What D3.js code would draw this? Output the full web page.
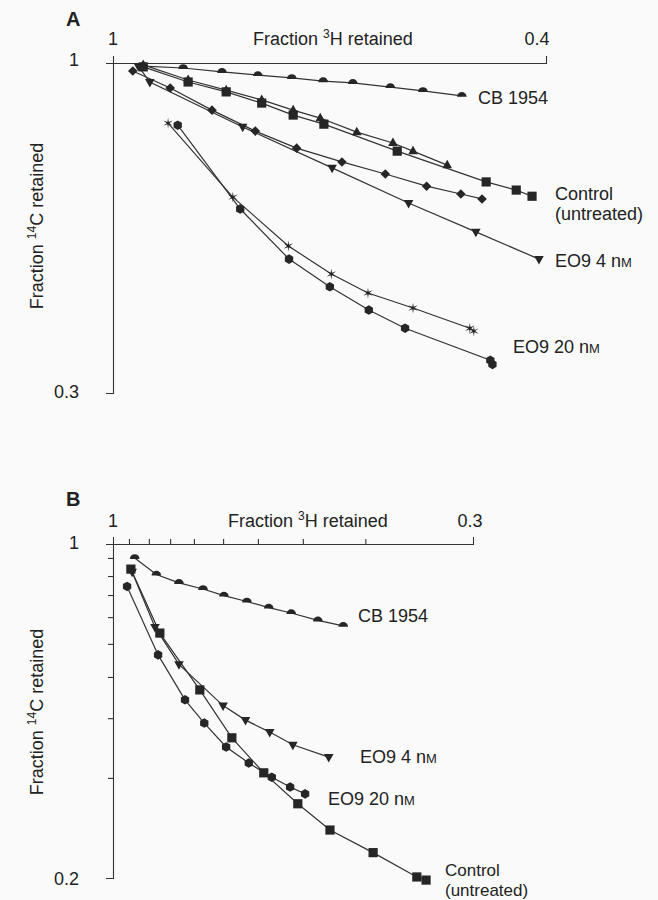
<!DOCTYPE html>
<html>
<head>
<meta charset="utf-8">
<script src="https://cdn.jsdelivr.net/npm/d3@7"></script>
<style>
  body { margin: 0; background: #fafafa; }
  text { font-family: "Liberation Sans", Arial, sans-serif; fill: #222; }
</style>
</head>
<body>
<script>
// values: [fraction 3H retained, fraction 14C retained]
// panel A
const aCB = [[0.938,0.989],[0.862,0.982],[0.794,0.968],[0.736,0.957],[0.685,0.947],[0.641,0.936],[0.602,0.930],[0.556,0.916],[0.519,0.903],[0.478,0.887]];
const aControl = [[0.938,0.986],[0.853,0.933],[0.787,0.900],[0.730,0.864],[0.683,0.827],[0.640,0.800],[0.548,0.725],[0.454,0.648],[0.426,0.629],[0.412,0.615]];
const aTriangle = [[0.938,0.993],[0.853,0.940],[0.787,0.906],[0.730,0.874],[0.683,0.842],[0.645,0.818],[0.597,0.777],[0.553,0.747],[0.530,0.725],[0.493,0.689]];
const aDiamond = [[0.959,0.971],[0.886,0.913],[0.811,0.842],[0.740,0.780],[0.678,0.733],[0.616,0.697],[0.562,0.667],[0.515,0.638],[0.479,0.620],[0.458,0.609]];
const aEO9_4 = [[0.948,0.989],[0.925,0.933],[0.760,0.792],[0.629,0.682],[0.535,0.600],[0.464,0.540],[0.406,0.489]];
const aStar = [[0.890,0.803],[0.776,0.613],[0.690,0.513],[0.630,0.463],[0.583,0.432],[0.530,0.409],[0.470,0.380],[0.466,0.376]];
const aEO9_20 = [[0.872,0.797],[0.764,0.587],[0.689,0.489],[0.632,0.442],[0.582,0.406],[0.539,0.380],[0.450,0.338],[0.448,0.333]];

// panel B
const bCB = [[0.930,0.935],[0.865,0.863],[0.802,0.829],[0.740,0.805],[0.690,0.780],[0.639,0.758],[0.594,0.736],[0.551,0.717],[0.504,0.692],[0.463,0.674]];
const bControl = [[0.942,0.886],[0.855,0.651],[0.748,0.495],[0.672,0.393],[0.604,0.332],[0.539,0.286],[0.484,0.252],[0.419,0.226],[0.362,0.201],[0.351,0.198]];
const bEO9_4 = [[0.938,0.874],[0.869,0.670],[0.802,0.560],[0.692,0.459],[0.642,0.428],[0.592,0.404],[0.548,0.380],[0.486,0.358]];
const bEO9_20 = [[0.954,0.815],[0.860,0.586],[0.786,0.472],[0.737,0.422],[0.685,0.376],[0.635,0.348],[0.588,0.325],[0.553,0.310],[0.526,0.300]];

// axis ticks (unlabelled minor ticks in panel B)
const bTicksX = [0.948,0.887,0.826,0.763,0.692,0.616,0.530,0.430];
const bTicksY = [0.935,0.857,0.782,0.703,0.618,0.527,0.432,0.324];

const width = 658;
const height = 900;

const svg = d3.select("body").append("svg")
  .attr("width", width)
  .attr("height", height);

// marker shapes
const shapes = {
  square: "M-4.6,-4.6h9.2v9.2h-9.2Z",
  triUp: "M0,-5.4L4.8,3.1L-4.8,3.1Z",
  triDown: "M0,5.4L4.8,-3.1L-4.8,-3.1Z",
  diamond: "M0,-4.8L4.8,0L0,4.8L-4.8,0Z",
  dome: "M-4.8,1A4.8,4.8 0 0 1 4.8,1Z",
  hexagon: d3.range(6).map(i => {
    const a = Math.PI / 6 + i * Math.PI / 3;
    return (i ? "L" : "M") + (4.8 * Math.cos(a)).toFixed(2) + "," + (4.8 * Math.sin(a)).toFixed(2);
  }).join("") + "Z",
  star: d3.range(12).map(i => {
    const a = -Math.PI / 2 + i * Math.PI / 6;
    const r = i % 2 ? 1.4 : 5.4;
    return (i ? "L" : "M") + (r * Math.cos(a)).toFixed(2) + "," + (r * Math.sin(a)).toFixed(2);
  }).join("") + "Z"
};

function drawPanel(cfg) {
  const x = cfg.x, y = cfg.y;
  const g = svg.append("g");

  // axes: top x axis and left y axis, outer ticks make the corner cross
  g.append("g")
    .attr("transform", `translate(0,${y(1)})`)
    .call(d3.axisTop(x).tickValues(cfg.ticksX).tickSize(5).tickSizeOuter(7).tickFormat(""));
  g.append("g")
    .attr("transform", `translate(${x(1)},0)`)
    .call(d3.axisLeft(y).tickValues(cfg.ticksY).tickSize(5).tickSizeOuter(7).tickFormat(""));
  g.selectAll(".domain, .tick line").attr("stroke", "#333").attr("stroke-width", 1.1);

  const line = d3.line().x(d => x(d[0])).y(d => y(d[1]));

  cfg.series.forEach(s => {
    g.append("path")
      .datum(s.data)
      .attr("d", line)
      .attr("fill", "none")
      .attr("stroke", "#333")
      .attr("stroke-width", 1.2);
  });
  cfg.series.forEach(s => {
    g.selectAll(null)
      .data(s.data)
      .enter()
      .append("path")
      .attr("d", shapes[s.shape])
      .attr("transform", d => `translate(${x(d[0])},${y(d[1])})`)
      .attr("fill", "#262626");
  });
  return g;
}

function axisTitleX(g, xPos, yPos) {
  const t = g.append("text").attr("x", xPos).attr("y", yPos).style("font-size", "18px");
  t.append("tspan").text("Fraction ");
  t.append("tspan").attr("dy", -7).style("font-size", "12px").text("3");
  t.append("tspan").attr("dy", 7).text("H retained");
}

function axisTitleY(g, xPos, yPos) {
  const t = g.append("text")
    .attr("transform", `translate(${xPos},${yPos}) rotate(-90)`)
    .attr("text-anchor", "middle")
    .style("font-size", "18px");
  t.append("tspan").text("Fraction ");
  t.append("tspan").attr("dy", -7).style("font-size", "12px").text("14");
  t.append("tspan").attr("dy", 7).text("C retained");
}

function label(g, xPos, yPos, txt, unit, size) {
  const t = g.append("text").attr("x", xPos).attr("y", yPos).style("font-size", (size || 18) + "px").text(txt);
  if (unit) t.append("tspan").style("font-size", "13px").text("M");
  return t;
}

// ---- panel A
const xA = d3.scaleLog().domain([1, 0.4]).range([113, 546]);
const yA = d3.scaleLog().domain([1, 0.3]).range([63, 393]);
const gA = drawPanel({
  x: xA, y: yA, ticksX: [], ticksY: [],
  series: [
    { data: aCB, shape: "dome" },
    { data: aControl, shape: "square" },
    { data: aTriangle, shape: "triUp" },
    { data: aDiamond, shape: "diamond" },
    { data: aEO9_4, shape: "triDown" },
    { data: aStar, shape: "star" },
    { data: aEO9_20, shape: "hexagon" }
  ]
});
gA.append("text").attr("x", 66).attr("y", 26).style("font-size", "20px").style("font-weight", "bold").text("A");
gA.append("text").attr("x", 113).attr("y", 45).attr("text-anchor", "middle").style("font-size", "18px").text("1");
axisTitleX(gA, 253, 45);
gA.append("text").attr("x", 537).attr("y", 45).attr("text-anchor", "middle").style("font-size", "18px").text("0.4");
gA.append("text").attr("x", 79).attr("y", 66).attr("text-anchor", "end").style("font-size", "18px").text("1");
gA.append("text").attr("x", 79).attr("y", 398).attr("text-anchor", "end").style("font-size", "18px").text("0.3");
axisTitleY(gA, 43, 226);
label(gA, 478, 104, "CB 1954");
label(gA, 555, 200, "Control");
label(gA, 555, 220, "(untreated)");
label(gA, 555, 267, "EO9 4 n", true);
label(gA, 513, 353, "EO9 20 n", true);

// ---- panel B
const xB = d3.scaleLog().domain([1, 0.3]).range([113, 473]);
const yB = d3.scaleLog().domain([1, 0.2]).range([544, 878]);
const gB = drawPanel({
  x: xB, y: yB, ticksX: bTicksX, ticksY: bTicksY,
  series: [
    { data: bCB, shape: "dome" },
    { data: bControl, shape: "square" },
    { data: bEO9_4, shape: "triDown" },
    { data: bEO9_20, shape: "hexagon" }
  ]
});
gB.append("text").attr("x", 66).attr("y", 506).style("font-size", "20px").style("font-weight", "bold").text("B");
gB.append("text").attr("x", 113).attr("y", 527).attr("text-anchor", "middle").style("font-size", "18px").text("1");
axisTitleX(gB, 228, 527);
gB.append("text").attr("x", 470).attr("y", 527).attr("text-anchor", "middle").style("font-size", "18px").text("0.3");
gB.append("text").attr("x", 79).attr("y", 549).attr("text-anchor", "end").style("font-size", "18px").text("1");
gB.append("text").attr("x", 79).attr("y", 885).attr("text-anchor", "end").style("font-size", "18px").text("0.2");
axisTitleY(gB, 43, 712);
label(gB, 358, 622, "CB 1954");
label(gB, 360, 763, "EO9 4 n", true);
label(gB, 328, 805, "EO9 20 n", true);
label(gB, 445, 876, "Control", false, 17);
label(gB, 445, 896, "(untreated)", false, 17);
</script>
</body>
</html>
